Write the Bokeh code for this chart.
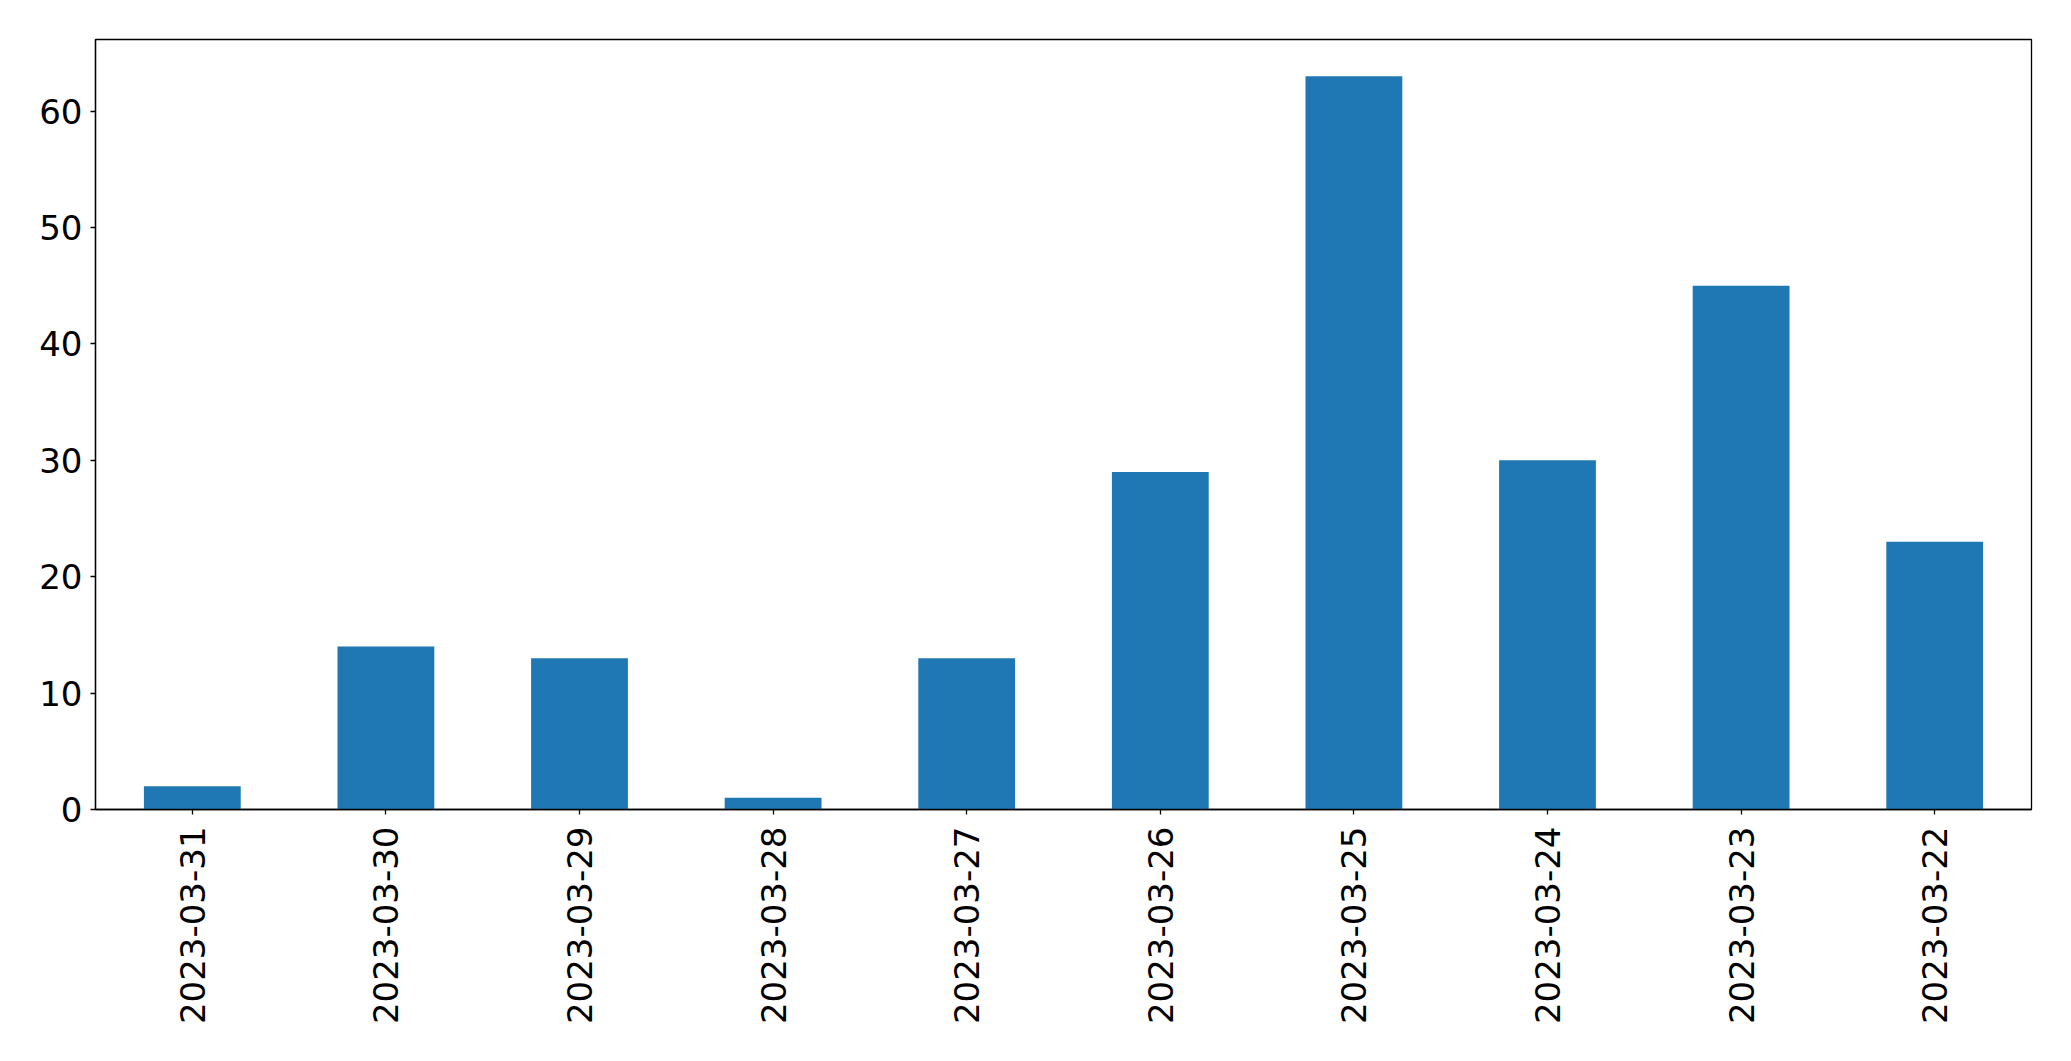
import math
from bokeh.plotting import figure
from bokeh.models import FactorRange, Range1d, FixedTicker, ColumnDataSource
from bokeh.embed import file_html
from bokeh.resources import INLINE

dates = ["2023-03-31", "2023-03-30", "2023-03-29", "2023-03-28", "2023-03-27",
         "2023-03-26", "2023-03-25", "2023-03-24", "2023-03-23", "2023-03-22"]
counts = [2, 14, 13, 1, 13, 29, 63, 30, 45, 23]
y_ticks = [0, 10, 20, 30, 40, 50, 60]

src = ColumnDataSource(dict(date=dates, count=counts))

p = figure(width=2055, height=1045, output_backend="svg", toolbar_location=None,
           x_range=FactorRange(*dates, range_padding=0),
           y_range=Range1d(0, max(counts) * 1.05),
           min_border_left=95, min_border_top=39, min_border_right=24, min_border_bottom=236)

p.vbar(x="date", top="count", width=0.5, source=src, fill_color="#1f77b4", line_color=None)

p.xgrid.visible = False
p.ygrid.visible = False
p.outline_line_color = "black"
p.outline_line_width = 1.3
p.outline_line_alpha = 1.0

p.yaxis.ticker = FixedTicker(ticks=y_ticks)
for ax in (p.xaxis[0], p.yaxis[0]):
    ax.major_label_text_font = "DejaVu Sans"
    ax.major_label_text_font_size = "34px"
    ax.major_label_text_color = "black"
    ax.axis_line_color = "black"
    ax.axis_line_width = 1.3
    ax.major_tick_line_color = "black"
    ax.major_tick_line_width = 1.3
    ax.major_tick_out = 5
    ax.major_tick_in = 0
    ax.minor_tick_line_color = None
p.xaxis.major_label_orientation = math.pi / 2
p.xaxis.major_label_standoff = 12
p.yaxis.major_label_standoff = 8

open("out.html", "w").write(file_html(p, INLINE))
